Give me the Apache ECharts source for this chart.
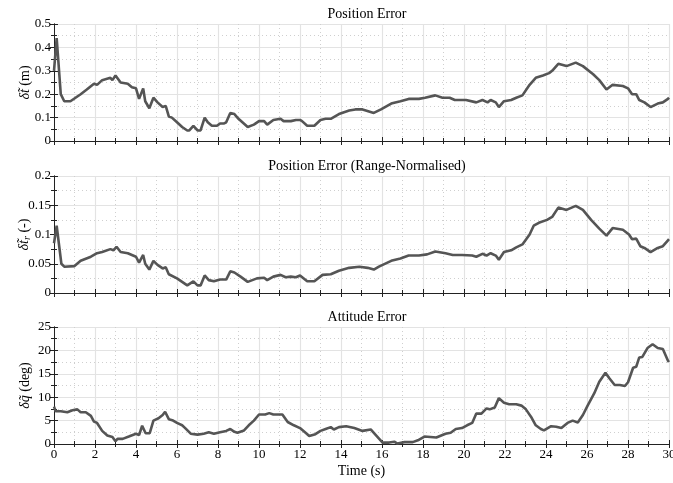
<!DOCTYPE html>
<html>
<head>
<meta charset="utf-8">
<script src="https://cdn.jsdelivr.net/npm/echarts@6/dist/echarts.min.js"></script>
<style>html,body{margin:0;padding:0;background:#fff}#c{width:673px;height:483px}</style>
</head>
<body>
<div id="c"></div>
<script>
// ---- data ----
const titles = ['Position Error', 'Position Error (Range-Normalised)', 'Attitude Error'];
const xTicks = [0, 30, 2];
const tPos = [0,0.13,0.33,0.5,0.8,1.3,1.6,1.95,2.1,2.35,2.75,2.85,3.0,3.25,3.6,3.8,4.0,4.15,4.35,4.45,4.65,4.85,5.05,5.3,5.45,5.6,5.75,6.0,6.25,6.5,6.6,6.8,7.0,7.15,7.35,7.5,7.7,7.95,8.1,8.3,8.4,8.6,8.8,9.0,9.45,9.75,10.0,10.25,10.4,10.7,11.05,11.2,11.55,11.8,12.0,12.1,12.35,12.7,13.0,13.25,13.5,13.9,14.4,14.7,15.05,15.6,15.95,16.45,16.9,17.3,17.8,18.1,18.6,18.95,19.3,19.55,20.1,20.6,20.9,21.15,21.3,21.55,21.7,21.95,22.3,22.55,22.85,23.2,23.5,23.85,24.15,24.3,24.6,25.0,25.45,25.8,26.3,26.6,26.95,27.25,27.75,28.0,28.2,28.4,28.55,28.8,29.1,29.45,29.7,29.95,30];
const posErr = [0.3,0.44,0.2,0.17,0.17,0.2,0.22,0.245,0.24,0.26,0.27,0.26,0.28,0.25,0.245,0.23,0.225,0.18,0.225,0.17,0.14,0.185,0.165,0.145,0.15,0.105,0.1,0.08,0.06,0.045,0.045,0.065,0.045,0.045,0.1,0.08,0.065,0.065,0.075,0.075,0.08,0.12,0.115,0.095,0.06,0.07,0.085,0.085,0.07,0.09,0.095,0.085,0.085,0.09,0.09,0.085,0.065,0.065,0.09,0.095,0.095,0.115,0.13,0.135,0.135,0.12,0.135,0.16,0.17,0.18,0.18,0.185,0.195,0.185,0.185,0.175,0.175,0.165,0.175,0.165,0.175,0.165,0.145,0.17,0.175,0.185,0.195,0.24,0.27,0.28,0.29,0.3,0.33,0.32,0.335,0.32,0.285,0.26,0.22,0.24,0.235,0.225,0.2,0.2,0.175,0.165,0.145,0.16,0.165,0.18,0.185];
const tRng = [0,0.13,0.36,0.5,1.0,1.3,1.8,2.1,2.35,2.75,2.9,3.05,3.25,3.6,4.0,4.15,4.35,4.45,4.65,4.85,5.05,5.3,5.45,5.6,6.0,6.5,6.8,7.0,7.15,7.35,7.55,7.8,8.1,8.4,8.6,8.8,9.1,9.45,9.9,10.25,10.4,10.7,11.05,11.3,11.55,11.8,12.0,12.35,12.7,13.1,13.5,13.9,14.4,14.9,15.3,15.6,15.85,16.45,16.9,17.3,17.8,18.2,18.6,19.1,19.45,19.9,20.4,20.6,20.9,21.1,21.3,21.55,21.7,21.95,22.3,22.55,22.85,23.2,23.4,23.65,24.05,24.3,24.6,25.0,25.45,25.8,26.2,26.6,26.95,27.25,27.75,28.05,28.2,28.4,28.6,28.8,29.1,29.45,29.7,29.95,30];
const rngErr = [0.085,0.115,0.05,0.045,0.046,0.055,0.062,0.068,0.07,0.075,0.073,0.079,0.07,0.068,0.062,0.052,0.065,0.05,0.04,0.055,0.048,0.042,0.044,0.032,0.025,0.013,0.02,0.013,0.013,0.03,0.022,0.02,0.023,0.023,0.037,0.035,0.028,0.019,0.025,0.026,0.022,0.028,0.031,0.027,0.028,0.027,0.03,0.02,0.02,0.031,0.032,0.038,0.043,0.045,0.043,0.04,0.045,0.055,0.059,0.064,0.064,0.066,0.071,0.068,0.065,0.065,0.064,0.062,0.067,0.064,0.068,0.064,0.057,0.07,0.073,0.078,0.083,0.1,0.115,0.12,0.125,0.13,0.146,0.142,0.149,0.142,0.125,0.11,0.098,0.111,0.108,0.1,0.092,0.093,0.08,0.077,0.07,0.077,0.08,0.09,0.092];
const tAtt = [0,0.08,0.33,0.65,0.9,1.14,1.3,1.55,1.8,1.95,2.1,2.35,2.6,2.85,3.0,3.1,3.35,3.65,4.0,4.15,4.3,4.47,4.67,4.85,5.1,5.3,5.42,5.6,5.77,6.0,6.25,6.4,6.67,7.0,7.3,7.55,7.8,8.1,8.4,8.6,8.8,8.95,9.27,9.5,9.75,10.0,10.3,10.5,10.7,11.0,11.14,11.4,11.7,12.0,12.3,12.45,12.75,13.0,13.25,13.5,13.65,13.9,14.25,14.65,15.05,15.45,15.7,16.03,16.35,16.6,16.75,17.1,17.5,17.75,18.07,18.65,19.1,19.35,19.6,19.9,20.15,20.4,20.6,20.85,21.1,21.25,21.5,21.7,21.95,22.2,22.55,22.8,23.02,23.3,23.5,23.75,23.9,24.25,24.5,24.75,25.05,25.3,25.55,25.8,26.03,26.35,26.6,26.9,27.1,27.35,27.6,27.85,28.0,28.25,28.4,28.55,28.7,28.95,29.2,29.45,29.7,29.95,30];
const attErr = [8,7,7,6.8,7.2,7.4,6.8,6.8,6,4.8,4.5,2.8,1.8,1.5,0.6,1.1,1.1,1.6,2.2,1.9,3.9,2.3,2.3,5,5.5,6.2,6.9,5.3,5.1,4.5,4,3.4,2.2,2,2.2,2.5,2.2,2.5,2.8,3.2,2.6,2.4,2.9,4,5,6.3,6.3,6.6,6.3,6.3,6.3,4.7,4,3.4,2.3,1.7,2.1,2.8,3.2,3.6,3.1,3.6,3.8,3.4,2.8,3.1,1.9,0.3,0.3,0.5,0.1,0.4,0.4,0.8,1.6,1.4,2.2,2.4,3.2,3.4,4,4.5,6.5,6.5,7.6,7.4,7.8,9.8,8.8,8.5,8.5,8.2,7.4,5.6,4,3.2,2.9,3.8,3.7,3.4,4.5,5,4.6,6.2,8.2,10.8,13.3,15.2,14,12.6,12.6,12.4,13.2,16.3,16.5,18.5,18.6,20.5,21.3,20.5,20.3,17.8,17.5];
const yMax = [0.5, 0.2, 25];
const yInterval = [0.1, 0.05, 5];
const yNames = ['{i|δt\u0303} (m)', '{i|δt\u0303}{s|r} (-)', '{i|δq\u0303} (deg)'];

const FONT = 'Liberation Serif';
const tops = [24, 176, 327];
const H = 117;
const zip = (a, b) => a.map((v, i) => [v, b[i]]);
const seriesData = [zip(tPos, posErr), zip(tRng, rngErr), zip(tAtt, attErr)];

const grids = [], xAxes = [], yAxes = [], series = [], title = [];
const INK = '#222';
function tickAxis(gridIndex, position, min, max, interval, len, showLine) {
  return {
    type: 'value', gridIndex, position, min, max, interval,
    axisLine: { show: showLine, lineStyle: { color: INK, width: 1 } },
    axisTick: { show: true, inside: true, length: len, lineStyle: { color: INK, width: 1 } },
    axisLabel: { show: false }, splitLine: { show: false }, silent: true
  };
}
for (let i = 0; i < 3; i++) {
  grids.push({ left: 54, right: 4, top: tops[i], height: H, containLabel: false, outerBoundsMode: 'none' });
  title.push({ text: titles[i], left: 362, top: tops[i] - 22, textAlign: 'center',
    textStyle: { fontFamily: FONT, fontSize: 14, fontWeight: 'normal', color: '#000' } });

  xAxes.push({
    type: 'value', gridIndex: i, position: 'bottom', min: xTicks[0], max: xTicks[1], interval: xTicks[2],
    axisLine: { show: true, lineStyle: { color: INK, width: 1 } },
    axisTick: { show: true, inside: true, length: 4, lineStyle: { color: INK } },
    axisLabel: { show: i === 2, fontFamily: FONT, fontSize: 13, color: '#000', margin: 4,
      alignMinLabel: 'center', alignMaxLabel: 'center' },
    splitLine: { show: true, lineStyle: { color: '#e3e3e3', width: 1.2 } },
    minorTick: { show: false, splitNumber: 2 },
    minorSplitLine: { show: true, lineStyle: { color: '#cfcfcf', type: [1, 3], width: 1 } },
    name: i === 2 ? 'Time (s)' : '', nameLocation: 'middle', nameGap: 20, nameMoveOverlap: false,
    nameTextStyle: { fontFamily: FONT, fontSize: 14, color: '#000' }
  });
  const xi = xAxes.length - 1;
  xAxes.push(tickAxis(i, 'bottom', xTicks[0], xTicks[1], xTicks[2] / 2, 3, false));
  xAxes.push(tickAxis(i, 'top', xTicks[0], xTicks[1], xTicks[2], 4, true));
  xAxes.push(tickAxis(i, 'top', xTicks[0], xTicks[1], xTicks[2] / 2, 3, false));

  yAxes.push({
    type: 'value', gridIndex: i, position: 'left', min: 0, max: yMax[i], interval: yInterval[i],
    axisLine: { show: true, lineStyle: { color: INK, width: 1 } },
    axisTick: { show: true, inside: true, length: 4, lineStyle: { color: INK } },
    axisLabel: { fontFamily: FONT, fontSize: 13, color: '#000', margin: 3 },
    splitLine: { show: true, lineStyle: { color: '#e3e3e3', width: 1.2 } },
    minorTick: { show: false, splitNumber: 2 },
    minorSplitLine: { show: true, lineStyle: { color: '#cfcfcf', type: [1, 3], width: 1 } },
    name: yNames[i], nameLocation: 'middle', nameRotate: 90, nameGap: i === 1 ? 22 : 22, nameMoveOverlap: false,
    nameTextStyle: { fontFamily: FONT, fontSize: 14, color: '#000',
      rich: { i: { fontFamily: FONT, fontSize: 14, fontStyle: 'italic', color: '#000' },
              s: { fontFamily: FONT, fontSize: 10, fontStyle: 'italic', color: '#000', padding: [6, 0, 0, 0] } } }
  });
  const yi = yAxes.length - 1;
  yAxes.push(tickAxis(i, 'left', 0, yMax[i], yInterval[i] / 2, 3, false));
  yAxes.push(tickAxis(i, 'right', 0, yMax[i], yInterval[i], 4, true));
  yAxes.push(tickAxis(i, 'right', 0, yMax[i], yInterval[i] / 2, 3, false));

  series.push({
    type: 'line', xAxisIndex: xi, yAxisIndex: yi, data: seriesData[i],
    showSymbol: false, symbol: 'none', smooth: false,
    lineStyle: { color: '#555555', width: 2.6 }, z: 3
  });
}

const chart = echarts.init(document.getElementById('c'), null, { renderer: 'canvas' });
chart.setOption({
  animation: false, backgroundColor: '#fff',
  title, grid: grids, xAxis: xAxes, yAxis: yAxes, series
});
</script>
</body>
</html>
